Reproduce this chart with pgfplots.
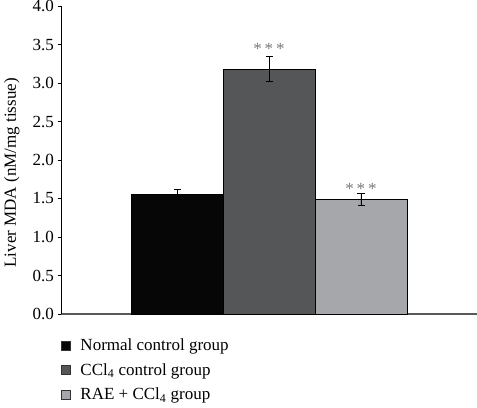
\documentclass[border=0pt]{standalone}
\usepackage{pgfplots}
\pgfplotsset{compat=1.18}
\usepackage{fontspec}
\setmainfont{Liberation Serif}
\definecolor{barA}{HTML}{060606}
\definecolor{barB}{HTML}{555658}
\definecolor{barC}{HTML}{A6A7AA}
\definecolor{stargray}{HTML}{7A7A7A}
\begin{document}
\begin{tikzpicture}[x=1bp,y=1bp]
\begin{axis}[
  at={(61bp,94bp)}, anchor=south west,
  scale only axis, width=416bp, height=308bp,
  xmin=-0.261, xmax=4.261, ymin=0, ymax=4,
  axis x line=bottom, axis y line=left,
  x axis line style={-, draw=black!65, line width=1.2pt},
  y axis line style={-, draw=black, line width=0.8pt},
  xtick=\empty,
  ytick={0,0.5,...,4},
  yticklabel style={/pgf/number format/fixed, /pgf/number format/fixed zerofill, /pgf/number format/precision=1, font=\fontsize{17bp}{19bp}\selectfont},
  /pgf/number format/assume math mode=true,
  tick align=outside, major tick length=3.5bp,
  tick style={black, line width=0.8pt},
  ylabel={Liver MDA (nM/mg tissue)},
  ylabel style={at={(axis description cs:-0.118,0.458)}, anchor=center, font=\fontsize{17bp}{19bp}\selectfont},
  ybar, bar width=92bp,
  legend style={at={(axis description cs:0,0)}, anchor=north west, yshift=-23bp, xshift=0bp, draw=none, fill=none,
    font=\fontsize{17bp}{19bp}\selectfont, row sep=7bp, inner sep=0pt, cells={anchor=west}},
  legend cell align=left,
  clip=false,
]
\addplot[bar shift=0pt, fill=barA, draw=black, line width=0.8pt,
  error bars/.cd, y dir=both, y explicit, error mark options={line width=1pt, mark size=3.5bp, black, rotate=90}, error bar style={line width=1pt, black},
  /pgfplots/legend image code/.code={\draw[fill=barA, draw=black!80, line width=0.6pt] (0bp,-4.5bp) rectangle (9bp,4.5bp); \path[draw=none, fill=none] (9bp,0) -- (17bp,0);}]
  coordinates {(1,1.555) +- (0,0.065)};
\addlegendentry{Normal control group}
\addplot[bar shift=0pt, fill=barB, draw=black, line width=0.8pt,
  error bars/.cd, y dir=both, y explicit, error mark options={line width=1pt, mark size=3.5bp, black, rotate=90}, error bar style={line width=1pt, black},
  /pgfplots/legend image code/.code={\draw[fill=barB, draw=black!80, line width=0.6pt] (0bp,-4.5bp) rectangle (9bp,4.5bp); \path[draw=none, fill=none] (9bp,0) -- (17bp,0);}]
  coordinates {(2,3.18) +- (0,0.165)};
\addlegendentry{CCl\textsubscript{4} control group}
\addplot[bar shift=0pt, fill=barC, draw=black, line width=0.8pt,
  error bars/.cd, y dir=both, y explicit, error mark options={line width=1pt, mark size=3.5bp, black, rotate=90}, error bar style={line width=1pt, black},
  /pgfplots/legend image code/.code={\draw[fill=barC, draw=black!80, line width=0.6pt] (0bp,-4.5bp) rectangle (9bp,4.5bp); \path[draw=none, fill=none] (9bp,0) -- (17bp,0);}]
  coordinates {(3,1.485) +- (0,0.075)};
\addlegendentry{RAE + CCl\textsubscript{4} group}
\node[text=stargray, font=\fontsize{17bp}{19bp}\selectfont] at (axis cs:2,3.44) {*\,*\,*};
\node[text=stargray, font=\fontsize{17bp}{19bp}\selectfont] at (axis cs:3,1.62) {*\,*\,*};
\end{axis}
\pgfresetboundingbox
\path[use as bounding box] (0,0) rectangle (477bp,408bp);
\end{tikzpicture}
\end{document}
